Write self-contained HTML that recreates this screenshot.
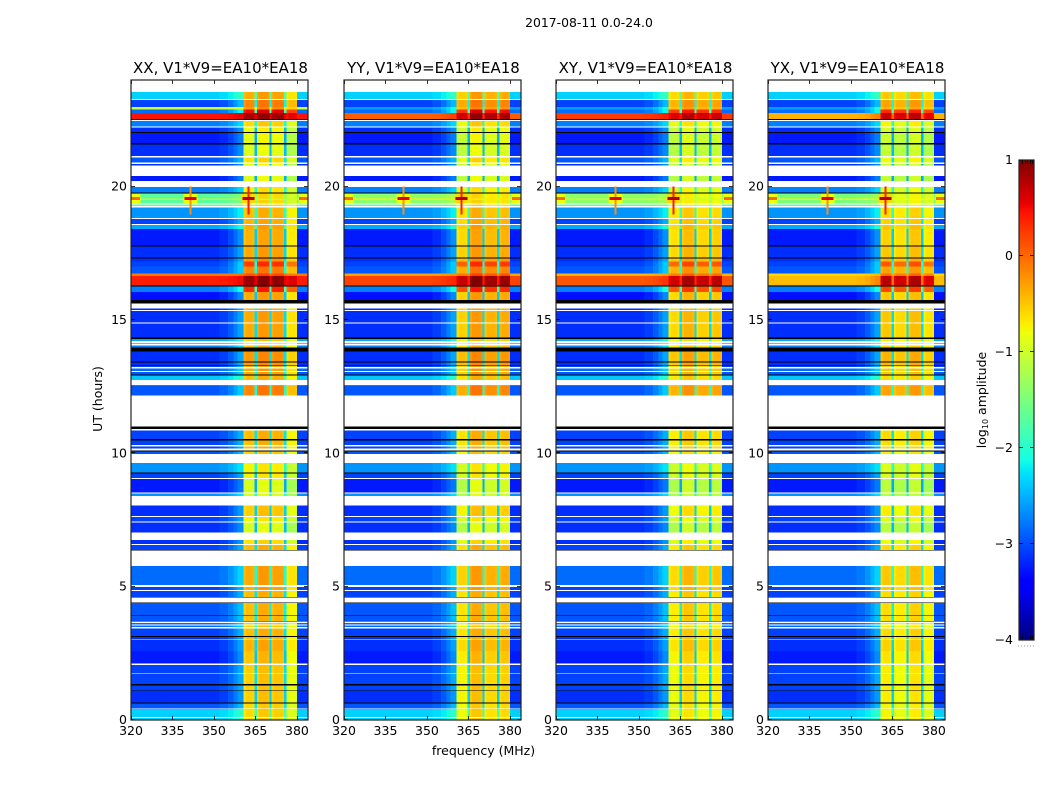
<!DOCTYPE html>
<html>
<head>
<meta charset="utf-8">
<title>2017-08-11 0.0-24.0</title>
<style>
html,body{margin:0;padding:0;background:#fff;width:1050px;height:800px;overflow:hidden}
svg{display:block}
text{font-family:"DejaVu Sans","Liberation Sans",sans-serif;fill:#000}
</style>
</head>
<body>
<svg id="figure" xmlns="http://www.w3.org/2000/svg" width="1050" height="800" viewBox="0 0 1050 800">
  <rect x="0" y="0" width="1050" height="800" fill="#fff"/>
  <text x="589" y="27" font-size="12.4" text-anchor="middle">2017-08-11 0.0-24.0</text>
  <text transform="translate(102 399) rotate(-90)" font-size="12.5" text-anchor="middle">UT (hours)</text>
  <text x="483.5" y="755" font-size="12.5" text-anchor="middle">frequency (MHz)</text>
  <text transform="translate(986 400) rotate(-90)" font-size="12.5" text-anchor="middle">log<tspan font-size="8" dy="2">10</tspan><tspan dy="-2"> amplitude</tspan></text>
  <g id="panels"></g>
  <g id="colorbar"></g>
</svg>
<script>
// ---- Axis tick data ----
const panelTitles = ["XX, V1*V9=EA10*EA18", "YY, V1*V9=EA10*EA18", "XY, V1*V9=EA10*EA18", "YX, V1*V9=EA10*EA18"];
const freqTicks = [320, 335, 350, 365, 380];
const utTicks = [0, 5, 10, 15, 20];
const colorTicks = [1, 0, -1, -2, -3, -4];
const colorTickLabels = ["1", "0", "\u22121", "\u22122", "\u22123", "\u22124"];

// ---- Time segments: upper UT edge (hours) of every row band, top of plot downward ----
const segmentTopUT = [24,23.55,23.29,23.25,22.99,22.89,22.76,22.54,22.50,22.46,22.26,22.22,22.05,22.01,21.63,21.59,21.15,21.09,20.91,20.85,20.79,20.40,20.21,19.99,19.78,19.74,19.37,19.33,19.28,19.22,18.83,18.79,18.60,18.56,18.41,17.79,17.76,17.34,17.31,17.19,17.01,16.74,16.65,16.31,16.29,16.25,16.05,15.75,15.62,15.43,15.37,15.34,14.90,14.86,14.34,14.29,14.21,14.12,14.10,14.05,13.97,13.81,13.44,13.40,13.30,13.27,13.24,13.19,13.09,13.05,12.96,12.92,12.75,12.56,12.53,12.16,11.00,10.92,10.86,10.53,10.49,10.31,10.26,10.19,10.10,10.06,9.98,9.64,9.29,9.25,9.08,9.04,8.54,8.50,8.40,8.04,7.65,7.61,7.44,7.40,7.04,6.75,6.60,6.56,6.38,6.35,5.78,5.06,4.99,4.88,4.84,4.61,4.59,4.41,4.38,3.94,3.91,3.71,3.69,3.63,3.58,3.55,3.49,3.44,3.15,3.11,3.04,3.01,2.59,2.11,2.07,1.77,1.74,1.35,1.29,1.11,1.09,0.65,0.61,0.44,0.41,0.11,0.08];

// ---- Level per segment, log10 amplitude. null = no data (white), -9 = flagged (black) ----
const backgroundLevels = [null,-2.35,null,-3.05,-1.0,-2.85,0.45,-9,null,-2.75,null,-3.15,-9,-3.25,-9,-3.15,null,-2.95,null,-3.15,null,-3.25,null,-2.75,-9,-1.7,null,-1.7,null,-2.65,null,-3.05,null,-2.55,-3.25,-9,-3.15,-9,-3.15,-3.05,-2.95,-0.1,0.4,0.4,-9,-2.75,-3.3,-9,null,-3.15,null,-3.15,null,-3.15,-9,-2.55,null,-2.95,null,-2.75,-9,-3.15,-9,-3.15,-9,-3.05,null,-2.85,null,-2.95,-9,-2.4,null,-2.75,-2.95,null,-9,null,-3.05,-9,-3.05,null,-3.05,null,-9,-2.95,null,-2.65,-9,-3.05,null,-3.25,null,-2.65,null,-3.15,null,-3.05,null,-3.15,null,-3.15,null,-3.05,-9,null,-2.85,null,-3.05,null,-3.05,-9,null,-9,-2.95,-9,-2.95,-9,null,-2.85,null,-2.85,null,-3.05,-9,-3.15,null,-3.15,-3.25,null,-3.05,null,-3.05,-9,-3.05,-9,-3.15,-9,-2.95,null,-2.35,null,-2.35];
const bandLevels = [null,-0.3,null,-0.1,-0.2,0.55,0.9,-9,null,-0.55,null,-0.75,-9,-0.8,-9,-0.85,null,-0.6,null,-0.8,null,-0.85,null,-0.65,-9,-0.6,null,-0.6,null,-0.4,null,-0.35,null,-0.3,-0.35,-9,-0.3,-9,-0.2,0.3,-0.1,0.2,0.95,0.95,-9,0.4,-0.3,-9,null,-0.3,null,-0.3,null,-0.3,-9,-0.5,null,-0.4,null,-0.4,-9,-0.2,-9,-0.2,-9,-0.3,null,-0.3,null,-0.3,-9,-0.4,null,-0.2,-0.1,null,-9,null,-0.4,-9,-0.4,null,-0.4,null,-9,-0.5,null,-0.7,-9,-0.7,null,-0.9,null,-0.9,null,-0.5,null,-0.7,null,-0.9,null,-0.6,null,-0.4,-9,null,-0.3,null,-0.3,null,-0.4,-9,null,-9,-0.4,-9,-0.4,-9,null,-0.5,null,-0.5,null,-0.4,-9,-0.4,null,-0.35,-0.45,null,-0.5,null,-0.5,-9,-0.5,-9,-0.5,-9,-0.55,null,-0.55,null,-0.55];

// ---- Frequency profile: bin edges (MHz), band weight, sub-band index, in-band roll-off ----
const profileEdges = [320,352,355,357,358.5,360.6,361.5,363.8,364.6,365.5,366.3,369.4,370,370.8,371.6,374.8,375.4,376.2,377,379.4,380,384];
const profileWeights = [0,0.03,0.08,0.14,0.2,1,1,1,0.3,1,1,1,0.3,1,1,1,0.3,1,1,1,0];
const profileSubband = [-1,-1,-1,-1,-1,0,0,0,-1,1,1,1,-1,2,2,2,-1,3,3,3,-1];
const profileRoll = [0,0,0,0,0,-0.08,0,-0.04,0,-0.08,0,-0.04,0,-0.08,0,-0.04,0,-0.08,0,-0.04,0];

// ---- Per-panel sub-band offsets ----
const subbandOffsetXX = [-0.05, 0.05, 0, -0.35];
const subbandOffsetYY = [-0.25, 0.05, -0.1, -0.05];
const subbandOffsetXY = [-0.3, -0.1, -0.25, -0.2];
const subbandOffsetYX = [-0.2, -0.3, -0.15, -0.35];

// ---- Bright RFI rows that differ by polarisation ----
const brightRowTopUT = [22.99, 22.76, 19.74, 16.74, 16.65, 16.31];
const brightBackgroundXX = [-1.0, 0.45, -1.7, -0.1, 0.4, 0.4];
const brightBackgroundYY = [-2.6, 0.05, -1.4, -0.3, 0.2, 0.1];
const brightBackgroundXY = [-2.6, 0.25, -1.4, -0.4, 0.1, 0.05];
const brightBackgroundYX = [-2.6, -0.4, -1.5, -0.6, -0.45, -0.1];

// ---- Narrow interference centred near UT 19.5 ----
const rfiFreqs = [321, 341.5, 362.5, 383];
const rfiHaloLevels = [-0.8, -0.8, -0.6, -0.8];
const rfiCoreLevels = [0.0, 0.55, 0.75, 0.0];
const rfiStemLevels = [null, -0.2, 0.4, null];
const rfiLineLevelByPanel = [-1.1, -0.7, -1.0, -0.8];

const subbandOffsets = [subbandOffsetXX, subbandOffsetYY, subbandOffsetXY, subbandOffsetYX];
const brightBackgrounds = [brightBackgroundXX, brightBackgroundYY, brightBackgroundXY, brightBackgroundYX];

// ---- Small colorbar marks along the top and bottom edges ----
const colorbarEdgeMarkFractions = [0.2, 0.37, 0.53, 0.7, 0.87];

const SVGNS = "http://www.w3.org/2000/svg";
const panelLeft = [131, 344, 556, 768];
const panelWidth = 177;
const plotTop = 80, plotBottom = 720;
const colorRange = [-4, 1];

function xScale(p, f) { return panelLeft[p] + (f - 320) * panelWidth / 64; }
function yScale(ut) { return plotBottom - ut * (plotBottom - plotTop) / 24; }

function interp(t, pts) {
  if (t <= pts[0][0]) return pts[0][1];
  for (let i = 1; i < pts.length; i++) {
    if (t <= pts[i][0]) {
      const a = pts[i - 1], b = pts[i];
      return a[1] + (b[1] - a[1]) * (t - a[0]) / (b[0] - a[0]);
    }
  }
  return pts[pts.length - 1][1];
}
const jetR = [[0, 0], [0.35, 0], [0.66, 1], [0.89, 1], [1, 0.5]];
const jetG = [[0, 0], [0.125, 0], [0.375, 1], [0.64, 1], [0.91, 0], [1, 0]];
const jetB = [[0, 0.5], [0.11, 1], [0.34, 1], [0.65, 0], [1, 0]];
function jet(v) {
  const t = Math.max(0, Math.min(1, (v - colorRange[0]) / (colorRange[1] - colorRange[0])));
  return "rgb(" + Math.round(255 * interp(t, jetR)) + "," + Math.round(255 * interp(t, jetG)) + "," + Math.round(255 * interp(t, jetB)) + ")";
}

function mkRect(parent, x, y, w, h, fill) {
  const el = document.createElementNS(SVGNS, "rect");
  el.setAttribute("x", x.toFixed(2));
  el.setAttribute("y", y.toFixed(2));
  el.setAttribute("width", w.toFixed(2));
  el.setAttribute("height", h.toFixed(2));
  el.setAttribute("fill", fill);
  el.setAttribute("shape-rendering", "crispEdges");
  parent.appendChild(el);
  return el;
}
function mkLine(parent, x1, y1, x2, y2, stroke, sw) {
  const el = document.createElementNS(SVGNS, "line");
  el.setAttribute("x1", x1);
  el.setAttribute("y1", y1);
  el.setAttribute("x2", x2);
  el.setAttribute("y2", y2);
  el.setAttribute("stroke", stroke);
  el.setAttribute("stroke-width", sw);
  parent.appendChild(el);
  return el;
}
function mkText(parent, x, y, str, size, anchor) {
  const el = document.createElementNS(SVGNS, "text");
  el.setAttribute("x", x);
  el.setAttribute("y", y);
  el.setAttribute("font-size", size);
  el.setAttribute("text-anchor", anchor);
  el.textContent = str;
  parent.appendChild(el);
  return el;
}

const panelsRoot = document.getElementById("panels");
panelTitles.forEach(function (title, p) {
  const g = document.createElementNS(SVGNS, "g");
  
  
  panelsRoot.appendChild(g);

  // heatmap cells
  for (let s = 0; s < segmentTopUT.length; s++) {
    const bandValue = bandLevels[s];
    let bg = backgroundLevels[s];
    const top = segmentTopUT[s];
    const bottom = s + 1 < segmentTopUT.length ? segmentTopUT[s + 1] : 0;
    if (bg === null) continue;
    const yTop = yScale(top), yH = yScale(bottom) - yTop;
    if (bg === -9) {
      const blackRow = mkRect(g, xScale(p, 320), yTop, panelWidth, yH, "#000");
      
      
      continue;
    }
    const brightIdx = brightRowTopUT.indexOf(top);
    if (brightIdx >= 0) bg = brightBackgrounds[p][brightIdx];
    for (let b = 0; b < profileWeights.length; b++) {
      const sb = profileSubband[b];
      const band = bandValue + (sb >= 0 ? subbandOffsets[p][sb] + profileRoll[b] : 0);
      const value = bg + (Math.max(band, bg) - bg) * profileWeights[b];
      const x0 = xScale(p, profileEdges[b]), x1 = xScale(p, profileEdges[b + 1]);
      const cell = mkRect(g, x0, yTop, x1 - x0, yH, jet(value));
      
      
    }
  }

  // interference features
  const rfiLine = mkRect(g, xScale(p, 320), yScale(19.56), panelWidth, yScale(19.50) - yScale(19.56), jet(rfiLineLevelByPanel[p]));
  
  
  rfiFreqs.forEach(function (f, i) {
    const haloL = xScale(p, Math.max(320, f - 2.5)), haloR = xScale(p, Math.min(384, f + 2.5));
    const halo = mkRect(g, haloL, yScale(19.72), haloR - haloL, yScale(19.38) - yScale(19.72), jet(rfiHaloLevels[i]));
    
    
    if (rfiStemLevels[i] !== null) {
      const stem = mkRect(g, xScale(p, f - 0.4), yScale(20.0), xScale(p, f + 0.4) - xScale(p, f - 0.4), yScale(18.95) - yScale(20.0), jet(rfiStemLevels[i]));
      
      
    }
    const crossL = xScale(p, Math.max(320, f - 2.2)), crossR = xScale(p, Math.min(384, f + 2.2));
    const cross = mkRect(g, crossL, yScale(19.61), crossR - crossL, yScale(19.50) - yScale(19.61), jet(rfiCoreLevels[i]));
    
    
  });

  // ticks
  const l = panelLeft[p], r = l + panelWidth;
  freqTicks.forEach(function (f) {
    const x = Math.round(xScale(p, f)) + 0.5;
    const t1 = mkLine(g, x, plotBottom, x, plotBottom - 4, "#000", 0.8);
    
    
    const t2 = mkLine(g, x, plotTop, x, plotTop + 4, "#000", 0.8);
    
    
    const lab = mkText(g, xScale(p, f), 735, String(f), 12.5, "middle");
    
    
  });
  utTicks.forEach(function (u) {
    const y = Math.round(yScale(u)) - 0.5;
    const t1 = mkLine(g, l, y, l + 4, y, "#000", 0.8);
    
    
    const t2 = mkLine(g, r, y, r - 4, y, "#000", 0.8);
    
    
    const lab = mkText(g, l - 4, yScale(u) + 4, String(u), 12.5, "end");
    
    
  });

  // frame
  const frame = document.createElementNS(SVGNS, "rect");
  frame.setAttribute("x", l);
  frame.setAttribute("y", plotTop);
  frame.setAttribute("width", panelWidth);
  frame.setAttribute("height", plotBottom - plotTop);
  frame.setAttribute("fill", "none");
  frame.setAttribute("stroke", "#222");
  frame.setAttribute("stroke-width", "1.2");
  
  
  g.appendChild(frame);

  const titleEl = mkText(g, l + panelWidth / 2 + 1, 73, title, 15, "middle");
  
  
});

// ---- Colorbar ----
const cbRoot = document.getElementById("colorbar");
const cbLeft = 1019, cbRight = 1034, cbTop = 160, cbBottom = 640;
function cbScale(v) { return cbBottom - (v - colorRange[0]) * (cbBottom - cbTop) / (colorRange[1] - colorRange[0]); }
for (let i = 0; i < 240; i++) {
  const v0 = colorRange[0] + (colorRange[1] - colorRange[0]) * i / 240;
  const v1 = colorRange[0] + (colorRange[1] - colorRange[0]) * (i + 1) / 240;
  const sw = mkRect(cbRoot, cbLeft, cbScale(v1), cbRight - cbLeft, cbScale(v0) - cbScale(v1), jet((v0 + v1) / 2));
  
  
}
colorTicks.forEach(function (v, i) {
  const y = Math.round(cbScale(v)) + (i === 0 ? 0.5 : -0.5);
  const t1 = mkLine(cbRoot, cbLeft, y, cbLeft + 4, y, "#000", 0.8);
  
  
  const t2 = mkLine(cbRoot, cbRight, y, cbRight - 4, y, "#000", 0.8);
  
  
  const lab = mkText(cbRoot, 1013, cbScale(v) + 4, colorTickLabels[i], 12.5, "end");
  
  
});
colorbarEdgeMarkFractions.forEach(function (fr) {
  const x = Math.round(cbLeft + fr * (cbRight - cbLeft)) + 0.5;
  const top = mkLine(cbRoot, x, cbTop, x, cbTop + 4, "#000", 0.8);
  
  
  const bottom = mkLine(cbRoot, x, cbBottom, x, cbBottom - 4, "#000", 0.8);
  
  
});
const cbFrame = document.createElementNS(SVGNS, "rect");
cbFrame.setAttribute("x", cbLeft);
cbFrame.setAttribute("y", cbTop);
cbFrame.setAttribute("width", cbRight - cbLeft);
cbFrame.setAttribute("height", cbBottom - cbTop);
cbFrame.setAttribute("fill", "none");
cbFrame.setAttribute("stroke", "#222");
cbFrame.setAttribute("stroke-width", "1.2");


cbRoot.appendChild(cbFrame);
const cbDots = mkLine(cbRoot, 1018, 646, 1034, 646, "#999", 1);
cbDots.setAttribute("stroke-dasharray", "1 2");


</script>
</body>
</html>
